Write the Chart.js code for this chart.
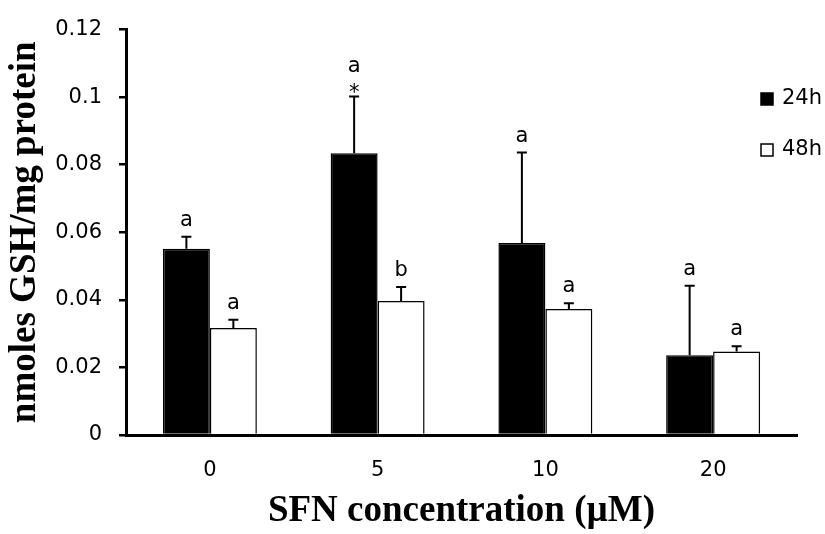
<!DOCTYPE html>
<html lang="en">
<head>
    <meta charset="UTF-8">
    <title>GSH levels</title>
    <script src="https://cdn.jsdelivr.net/npm/chart.js"></script>
    <style>
        body { margin: 0; background: #fff; }
        #wrap { width: 825px; height: 534px; }
    </style>
</head>
<body>
    <div id="wrap"><canvas id="gshChart"></canvas></div>
    <script>
        const categories = ['0', '5', '10', '20'];
        const seriesNames = ['24h', '48h'];
        const mean24 = [0.0551, 0.0834, 0.0568, 0.0236];
        const err24 = [0.0036, 0.0168, 0.0268, 0.0206];
        const mean48 = [0.0317, 0.0397, 0.0373, 0.0247];
        const err48 = [0.0024, 0.0041, 0.0017, 0.0016];
        const letters24 = ['a', 'a', 'a', 'a'];
        const letters48 = ['a', 'b', 'a', 'a'];
        const stars24 = ['', '*', '', ''];
        const stars48 = ['', '', '', ''];
        const yMin = 0, yMax = 0.12, yStep = 0.02;

        const tickFont = { family: 'DejaVu Sans', size: 21 };
        const titleFont = { family: 'Liberation Serif', size: 37, weight: 'bold' };

        const errors = [err24, err48];
        const letters = [letters24, letters48];
        const stars = [stars24, stars48];

        // error bars + significance letters above each bar
        const errorBarPlugin = {
            id: 'errorBars',
            afterDatasetsDraw(chart) {
                const ctx = chart.ctx;
                const yScale = chart.scales.y;
                ctx.save();
                chart.data.datasets.forEach((ds, i) => {
                    const meta = chart.getDatasetMeta(i);
                    meta.data.forEach((bar, j) => {
                        const top = yScale.getPixelForValue(ds.data[j] + errors[i][j]);
                        ctx.strokeStyle = '#000';
                        ctx.lineWidth = 2;
                        ctx.beginPath();
                        ctx.moveTo(bar.x, bar.y);
                        ctx.lineTo(bar.x, top);
                        ctx.moveTo(bar.x - 5, top);
                        ctx.lineTo(bar.x + 5, top);
                        ctx.stroke();

                        ctx.fillStyle = '#000';
                        ctx.font = '21px "DejaVu Sans"';
                        ctx.textAlign = 'center';
                        ctx.textBaseline = 'alphabetic';
                        let letterBase = top - 11;
                        if (stars[i][j]) {
                            ctx.fillText(stars[i][j], bar.x, top + 3);
                            letterBase = top - 24;
                        }
                        ctx.fillText(letters[i][j], bar.x, letterBase);
                    });
                });
                ctx.restore();
            }
        };

        // legend stacked at the right, over the plot
        const sideLegend = {
            id: 'sideLegend',
            afterDraw(chart) {
                const ctx = chart.ctx;
                const spots = [{ x: 761, y: 93 }, { x: 761, y: 144 }];
                ctx.save();
                ctx.font = '21px "DejaVu Sans"';
                ctx.textBaseline = 'middle';
                ctx.textAlign = 'left';
                chart.data.datasets.forEach((ds, i) => {
                    const s = spots[i];
                    ctx.fillStyle = ds.backgroundColor;
                    ctx.fillRect(s.x, s.y, 12, 12);
                    ctx.strokeStyle = '#000';
                    ctx.lineWidth = 1.5;
                    ctx.strokeRect(s.x, s.y, 12, 12);
                    ctx.fillStyle = '#000';
                    ctx.fillText(ds.label, s.x + 21, s.y + 6);
                });
                ctx.restore();
            }
        };

        new Chart(document.getElementById('gshChart'), {
            type: 'bar',
            data: {
                labels: categories,
                datasets: [{
                    label: seriesNames[0],
                    data: mean24,
                    backgroundColor: '#000000',
                    borderColor: '#000000',
                    borderWidth: 1.5
                }, {
                    label: seriesNames[1],
                    data: mean48,
                    backgroundColor: '#ffffff',
                    borderColor: '#000000',
                    borderWidth: 1.5
                }]
            },
            options: {
                responsive: true,
                maintainAspectRatio: false,
                animation: false,
                layout: { padding: { top: 25, right: 28, bottom: 0, left: 0 } },
                datasets: { bar: { categoryPercentage: 0.56, barPercentage: 1 } },
                scales: {
                    x: {
                        grid: { display: true, drawOnChartArea: false, drawTicks: false },
                        border: { display: true, color: '#000', width: 3 },
                        ticks: { color: '#000', font: tickFont, padding: 23 },
                        title: {
                            display: true,
                            text: 'SFN concentration (µM)',
                            color: '#000',
                            font: titleFont,
                            padding: { top: 0, bottom: 0 }
                        },
                        afterFit(scale) { scale.height = 99; }
                    },
                    y: {
                        min: yMin,
                        max: yMax,
                        grid: { display: true, drawOnChartArea: false, drawTicks: true, tickLength: 7, color: '#000', lineWidth: 2.5 },
                        border: { display: true, color: '#000', width: 3 },
                        ticks: {
                            stepSize: yStep,
                            color: '#000',
                            font: tickFont,
                            padding: 17,
                            callback: v => String(parseFloat(v.toFixed(2)))
                        },
                        title: {
                            display: true,
                            text: 'nmoles GSH/mg protein',
                            color: '#000',
                            font: titleFont,
                            padding: { top: 3, bottom: 0 }
                        },
                        afterFit(scale) { scale.width = 126; }
                    }
                },
                plugins: {
                    legend: { display: false },
                    tooltip: { enabled: false }
                }
            },
            plugins: [errorBarPlugin, sideLegend]
        });
    </script>
</body>
</html>
